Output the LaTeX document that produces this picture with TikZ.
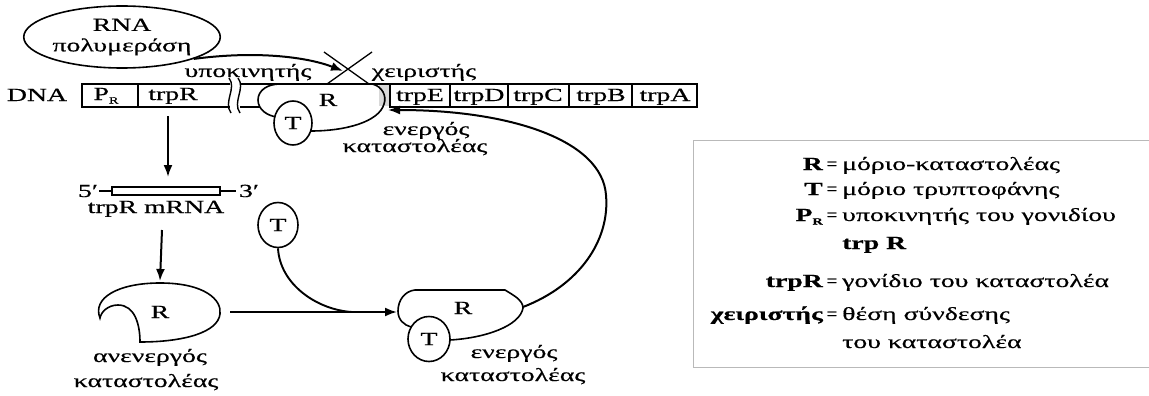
\documentclass[tikz,border=0pt]{standalone}
\usepackage{fontspec}
\setmainfont{Liberation Serif}[FakeStretch=1.5,FakeBold=0.5]
\newfontfamily\plainfont{Liberation Serif}[FakeBold=0.5]
\usetikzlibrary{arrows.meta,shapes.geometric}
\tikzset{
  txt/.style={font=\fontsize{18.5}{21}\selectfont, inner sep=0pt, anchor=base},
  lbl/.style={inner sep=0pt, anchor=base east, font=\fontsize{18.5}{21}\selectfont\bfseries},
  val/.style={inner sep=0pt, anchor=base west, font=\fontsize{18.5}{21}\selectfont},
  eqs/.style={inner sep=0pt, anchor=base, font=\fontsize{18.5}{21}\plainfont},
  shp/.style={line width=1.6pt},
  dna/.style={line width=1.4pt},
  arr/.style={line width=2pt, -{Latex[length=12pt,width=9pt]}},
  tmol/.style={ellipse, draw, line width=1.6pt, fill=white, inner sep=0pt,
    minimum width=38pt, minimum height=44pt, font=\fontsize{18.5}{21}\selectfont},
  legendline/.style={draw=gray!55, line width=0.8pt}
}
\begin{document}
\begin{tikzpicture}[x=1pt,y=-1pt]
\useasboundingbox (0,0) rectangle (1149,396);
\fill[white] (0,0) rectangle (1149,396);

% RNA polymerase
\node[ellipse, draw, shp, minimum width=172pt, minimum height=62pt, inner sep=0pt,
  align=center, font=\fontsize{18.5}{20.5}\selectfont] (rnap) at (122,37) {RNA\\πολυμεράση};

% DNA strip
\node[txt] (dnalbl) at (37,101) {DNA};
\draw[dna] (230,84) -- (82,84) -- (82,107) -- (230,107);
\draw[dna] (138,84) -- (138,107);
\node[txt] (pr) at (106,100) {P\raisebox{-3.5pt}{\fontsize{9.5}{9.5}\selectfont R}};
\node[txt] (trpr) at (173,100) {trpR};
\draw[dna] (229,78) .. controls (237,88) and (223,102) .. (231,113);
\draw[dna] (238,78) .. controls (246,88) and (232,102) .. (240,113);
\draw[dna] (240,84) -- (697,84) -- (697,107) -- (390,107) -- (390,84);
\draw[dna] (240,107) -- (262,107);
\foreach \x in {450,508,569,632} \draw[dna] (\x,84) -- (\x,107);
\node[txt] (ge) at (420,101) {trpE};
\node[txt] (gd) at (479,101) {trpD};
\node[txt] (gc) at (538,101) {trpC};
\node[txt] (gb) at (601,101) {trpB};
\node[txt] (ga) at (665,101) {trpA};

% bound (active) repressor on DNA
\fill[white] (258,100) .. controls (258,90) and (268,84) .. (280,84) -- (372,84)
  .. controls (382,86) and (387,96) .. (384,104) .. controls (379,122) and (345,131) .. (311,131)
  -- (277,117) .. controls (268,116) and (258,110) .. (258,100) -- cycle;
\fill[gray!30] (379,85) rectangle (389.3,106);
\draw[shp] (277,117) .. controls (268,116) and (258,110) .. (258,100)
  .. controls (258,90) and (268,84) .. (280,84) -- (372,84)
  .. controls (382,86) and (387,96) .. (384,104) .. controls (379,122) and (345,131) .. (311,131);
\node[tmol] (tb1) at (293,123) {T};
\node[txt] (rb1) at (328,106) {R};

% operator cross
\draw[line width=1.3pt] (324,52) -- (369,84);
\draw[line width=1.3pt] (372,52) -- (327,84);

\node[txt] (prom) at (248,77) {υποκινητής};
\node[txt] (oper) at (424,77) {χειριστής};
\node[txt] (act1a) at (426,135) {ενεργός};
\node[txt] (act1b) at (415,152) {καταστολέας};

% RNA polymerase arrow
\coordinate (xc) at (343,71);
\draw[arr] (rnap.-17) .. controls (260,50) and (310,58) .. (xc);

% trpR -> mRNA
\coordinate (a1s) at (168,116);
\coordinate (a1e) at (168,177);
\draw[arr] (a1s) -- (a1e);

% mRNA
\node[txt] (five) at (88,197) {5′};
\node[draw, line width=1.3pt, minimum width=108pt, minimum height=8pt, inner sep=0pt] (mrna) at (166,191) {};
\coordinate (m5) at (99,191);
\coordinate (m3) at (236,191);
\draw[dna] (m5) -- (mrna.west);
\draw[dna] (mrna.east) -- (m3);
\node[txt] (three) at (249,197) {3′};
\node[txt] (mrnalbl) at (156,213) {trpR mRNA};

% mRNA -> repressor
\coordinate (a2s) at (162,230);
\coordinate (a2e) at (160,281);
\draw[arr] (a2s) -- (a2e);

% inactive repressor
\draw[shp, fill=white] (100,318) .. controls (92,298) and (118,283) .. (160,283)
  .. controls (205,283) and (222,300) .. (220,314)
  .. controls (218,332) and (185,342) .. (140,342)
  .. controls (140,325) and (135,305) .. (118,305)
  .. controls (108,305) and (101,312) .. (100,318) -- cycle;
\node[txt] (ri) at (160,318) {R};
\node[txt] (inact1) at (150,362) {ανενεργός};
\node[txt] (inact2) at (146,387) {καταστολέας};

% horizontal arrow and tryptophan
\coordinate (h1) at (230,312);
\coordinate (h2) at (397,312);
\draw[arr] (h1) -- (h2);
\node[tmol, minimum width=40pt, minimum height=45pt] (tfree) at (278,225) {T};
\coordinate (join) at (352,312);
\draw[line width=1.9pt] (tfree.south) .. controls (280,285) and (318,310) .. (join);

% active repressor (bottom)
\draw[shp, fill=white] (411,327) .. controls (404,325) and (398,320) .. (398,311)
  .. controls (398,300) and (405,291) .. (415,290) -- (505,290)
  .. controls (513,295) and (523,300) .. (523,308)
  .. controls (520,326) and (485,338) .. (450,340);
\node[tmol, minimum width=42pt, minimum height=45pt] (tb2) at (429,339) {T};
\node[txt] (rb2) at (463,314) {R};
\node[txt] (act2a) at (514,358) {ενεργός};
\node[txt] (act2b) at (513,381) {καταστολέας};

% feedback loop
\coordinate (ab2) at (523,307);
\coordinate (op) at (388,110);
\draw[arr] (ab2) .. controls (580,285) and (610,240) .. (606,195)
  .. controls (602,140) and (510,110) .. (op);

% legend
\draw[legendline] (1149,140) -- (693,140) -- (693,367) -- (1149,367);
\node[lbl] (lR) at (823,170) {R};
\node[eqs] (e1) at (832,170) {=};
\node[val] (vR) at (842,170) {μόριο-καταστολέας};
\node[lbl] (lT) at (823,195) {T};
\node[eqs] (e2) at (832,195) {=};
\node[val] (vT) at (842,195) {μόριο τρυπτοφάνης};
\node[lbl] (lP) at (823,221) {P\raisebox{-3.5pt}{\fontsize{9.5}{9.5}\selectfont R}};
\node[eqs] (e3) at (832,221) {=};
\node[val] (vP) at (842,221) {υποκινητής του γονιδίου};
\node[val, font=\fontsize{18.5}{21}\selectfont\bfseries] (vP2) at (842,249) {trp R};
\node[lbl] (ltrp) at (823,287) {trpR};
\node[eqs] (e4) at (832,287) {=};
\node[val] (vtrp) at (842,287) {γονίδιο του καταστολέα};
\node[lbl] (lop) at (823,320) {χειριστής};
\node[eqs] (e5) at (832,320) {=};
\node[val] (vop) at (842,320) {θέση σύνδεσης};
\node[val] (vop2) at (842,348) {του καταστολέα};
\end{tikzpicture}
\end{document}
